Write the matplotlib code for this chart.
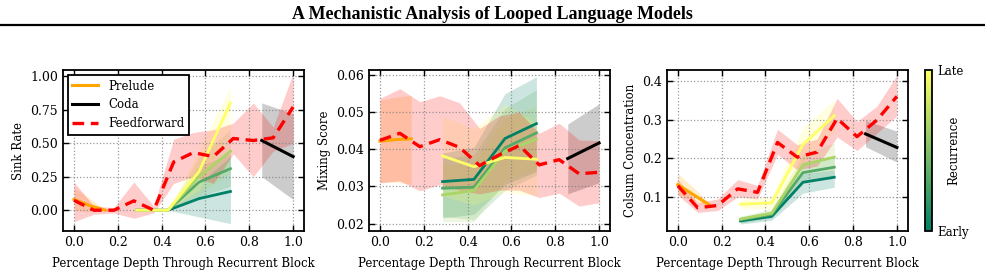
import numpy as np
import matplotlib
matplotlib.use("Agg")
import matplotlib.pyplot as plt
from matplotlib.lines import Line2D

plt.rcParams['font.family'] = ['DejaVu Serif']
plt.rcParams['font.size'] = 8

# x positions (fraction of depth through recurrent block)
x_ff = [0.0, 0.091, 0.182, 0.273, 0.364, 0.455, 0.545, 0.636, 0.727, 0.818, 0.909, 1.0]
x_pre = [0.0, 0.071, 0.143]
x_rec = [0.286, 0.429, 0.571, 0.714]
x_coda = [0.857, 1.0]

# ---- Sink Rate ----
sink_ff = [0.074, 0.0, 0.0, 0.07, 0.0, 0.36, 0.43, 0.40, 0.535, 0.52, 0.54, 0.77]
sink_ff_hi = [0.21, 0.03, 0.02, 0.21, 0.03, 0.53, 0.58, 0.60, 0.65, 0.80, 0.62, 1.02]
sink_ff_lo = [-0.085, -0.03, -0.02, -0.06, -0.02, 0.20, 0.25, 0.20, 0.42, 0.25, 0.44, 0.50]
sink_pre = [0.08, 0.035, 0.0]
sink_pre_hi = [0.17, 0.09, 0.0]
sink_pre_lo = [0.0, -0.01, 0.0]
sink_coda = [0.52, 0.40]
sink_coda_hi = [0.80, 0.72]
sink_coda_lo = [0.25, 0.08]
# early -> late
sink_rec = [[0.0, 0.0, 0.087, 0.14],
            [0.0, 0.0, 0.21, 0.31],
            [0.0, 0.0, 0.25, 0.44],
            [0.0, 0.0, 0.29, 0.80]]
sink_rec_hi = [[0.0, 0.0, 0.20, 0.40],
               [0.0, 0.0, 0.33, 0.42],
               [0.0, 0.0, 0.40, 0.60],
               [0.0, 0.0, 0.45, 0.92]]
sink_rec_lo = [[0.0, 0.0, -0.05, -0.10],
               [0.0, 0.0, 0.10, 0.18],
               [0.0, 0.0, 0.12, 0.28],
               [0.0, 0.0, 0.15, 0.60]]

# ---- Mixing Score ----
mix_ff = [0.0424, 0.0443, 0.0407, 0.0426, 0.0405, 0.0356, 0.0385, 0.0410, 0.0358, 0.0372, 0.0334, 0.0338]
mix_ff_hi = [0.0537, 0.0563, 0.0528, 0.0544, 0.0525, 0.0456, 0.0490, 0.0500, 0.0443, 0.0470, 0.0425, 0.0423]
mix_ff_lo = [0.0310, 0.0315, 0.0288, 0.0305, 0.0290, 0.0280, 0.0290, 0.0290, 0.0270, 0.0282, 0.0247, 0.0256]
mix_pre = [0.0422, 0.0426, 0.0428]
mix_pre_hi = [0.0532, 0.0540, 0.0545]
mix_pre_lo = [0.0310, 0.0312, 0.0305]
mix_coda = [0.0375, 0.0417]
mix_coda_hi = [0.0468, 0.0522]
mix_coda_lo = [0.0280, 0.0310]
mix_rec = [[0.0313, 0.0319, 0.0429, 0.0469],
           [0.0295, 0.0298, 0.0404, 0.0444],
           [0.0277, 0.0289, 0.0395, 0.0427],
           [0.0382, 0.0353, 0.0378, 0.0373]]
mix_rec_hi = [[0.0390, 0.0405, 0.0550, 0.0595],
              [0.0375, 0.0385, 0.0510, 0.0560],
              [0.0355, 0.0365, 0.0485, 0.0515],
              [0.0488, 0.0455, 0.0522, 0.0470]]
mix_rec_lo = [[0.0215, 0.0225, 0.0305, 0.0340],
              [0.0220, 0.0210, 0.0290, 0.0330],
              [0.0205, 0.0205, 0.0315, 0.0345],
              [0.0275, 0.0250, 0.0285, 0.0275]]

# ---- Colsum Concentration ----
col_ff = [0.129, 0.072, 0.078, 0.121, 0.112, 0.241, 0.203, 0.216, 0.303, 0.256, 0.299, 0.360]
col_ff_hi = [0.145, 0.085, 0.095, 0.145, 0.130, 0.275, 0.235, 0.250, 0.355, 0.295, 0.335, 0.415]
col_ff_lo = [0.105, 0.060, 0.065, 0.100, 0.095, 0.210, 0.170, 0.180, 0.255, 0.220, 0.265, 0.310]
col_pre = [0.132, 0.106, 0.080]
col_pre_hi = [0.160, 0.125, 0.085]
col_pre_lo = [0.105, 0.090, 0.075]
col_coda = [0.263, 0.228]
col_coda_hi = [0.298, 0.270]
col_coda_lo = [0.230, 0.190]
col_rec = [[0.038, 0.050, 0.138, 0.151],
           [0.041, 0.055, 0.163, 0.177],
           [0.043, 0.058, 0.183, 0.203],
           [0.081, 0.085, 0.236, 0.310]]
col_rec_hi = [[0.045, 0.060, 0.160, 0.170],
              [0.048, 0.065, 0.190, 0.200],
              [0.050, 0.070, 0.210, 0.240],
              [0.095, 0.100, 0.280, 0.350]]
col_rec_lo = [[0.030, 0.040, 0.110, 0.125],
              [0.033, 0.045, 0.140, 0.155],
              [0.035, 0.050, 0.160, 0.170],
              [0.070, 0.070, 0.190, 0.270]]

panels = [
    ("Sink Rate", sink_ff, sink_ff_hi, sink_ff_lo, sink_pre, sink_pre_hi, sink_pre_lo,
     sink_coda, sink_coda_hi, sink_coda_lo, sink_rec, sink_rec_hi, sink_rec_lo,
     (-0.155, 1.045), [0.0, 0.25, 0.5, 0.75, 1.0], "%.2f"),
    ("Mixing Score", mix_ff, mix_ff_hi, mix_ff_lo, mix_pre, mix_pre_hi, mix_pre_lo,
     mix_coda, mix_coda_hi, mix_coda_lo, mix_rec, mix_rec_hi, mix_rec_lo,
     (0.018, 0.0613), [0.02, 0.03, 0.04, 0.05, 0.06], "%.2f"),
    ("Colsum Concentration", col_ff, col_ff_hi, col_ff_lo, col_pre, col_pre_hi, col_pre_lo,
     col_coda, col_coda_hi, col_coda_lo, col_rec, col_rec_hi, col_rec_lo,
     (0.012, 0.428), [0.1, 0.2, 0.3, 0.4], "%.1f"),
]

cmap = plt.get_cmap("summer")
rec_colors = [cmap(v) for v in [0.0, 0.33, 0.67, 1.0]]

fig = plt.figure(figsize=(9.85, 2.76), dpi=100)
lefts = [0.064, 0.3746, 0.677]

for i, p in enumerate(panels):
    (ylab, ff, ffh, ffl, pre, preh, prel, coda, codah, codal,
     rec, rech, recl, ylim, yticks, fmt) = p
    ax = fig.add_axes([lefts[i], 0.163, 0.2447, 0.583])

    for k in range(4):
        ax.fill_between(x_rec, recl[k], rech[k], color=rec_colors[k], alpha=0.2, lw=0)
        ax.plot(x_rec, rec[k], color=rec_colors[k], lw=2)

    ax.fill_between(x_pre, prel, preh, color="orange", alpha=0.2, lw=0)
    ax.plot(x_pre, pre, color="orange", lw=2.2, label="Prelude")
    ax.fill_between(x_coda, codal, codah, color="black", alpha=0.2, lw=0)
    ax.plot(x_coda, coda, color="black", lw=2.2, label="Coda")
    ax.fill_between(x_ff, ffl, ffh, color="red", alpha=0.2, lw=0)
    ax.plot(x_ff, ff, color="red", lw=2.4, ls=(0, (3.5, 2)), label="Feedforward")

    ax.set_xlim(-0.05, 1.05)
    ax.set_ylim(*ylim)
    ax.set_xticks([0.0, 0.2, 0.4, 0.6, 0.8, 1.0])
    ax.set_yticks(yticks)
    ax.set_yticklabels([fmt % v for v in yticks])
    ax.tick_params(direction="in", top=True, right=True, length=4, width=1, labelsize=9)
    ax.grid(True, ls=":", color="gray", lw=0.9, alpha=0.8)
    for s in ax.spines.values():
        s.set_linewidth(1.3)
    ax.set_xlabel("Percentage Depth Through Recurrent Block", fontsize=8.5, labelpad=6)
    ax.set_ylabel(ylab, fontsize=8.5)

    if i == 0:
        leg = ax.legend(loc="upper left", fontsize=8.5, fancybox=False, framealpha=1,
                        edgecolor="black", handlelength=2.2, borderaxespad=0.4)
        leg.get_frame().set_linewidth(1.3)

# colorbar for recurrence
cax = fig.add_axes([0.939, 0.163, 0.0071, 0.583])
sm = plt.cm.ScalarMappable(cmap=cmap, norm=plt.Normalize(0, 1))
cb = fig.colorbar(sm, cax=cax, ticks=[0, 1])
cb.ax.set_yticklabels(["Early", "Late"], fontsize=8.5)
cb.ax.tick_params(length=0, pad=4)
cb.outline.set_linewidth(1.3)
cb.set_label("Recurrence", fontsize=8.5, labelpad=-16)

fig.text(0.5, 0.948, "A Mechanistic Analysis of Looped Language Models", ha="center",
         va="center", fontsize=13, fontweight="bold", family=["Liberation Serif", "DejaVu Serif"])
fig.add_artist(Line2D([0, 1], [0.908, 0.908], color="black", lw=1.6, transform=fig.transFigure))

fig.savefig("out.png", dpi=100)
